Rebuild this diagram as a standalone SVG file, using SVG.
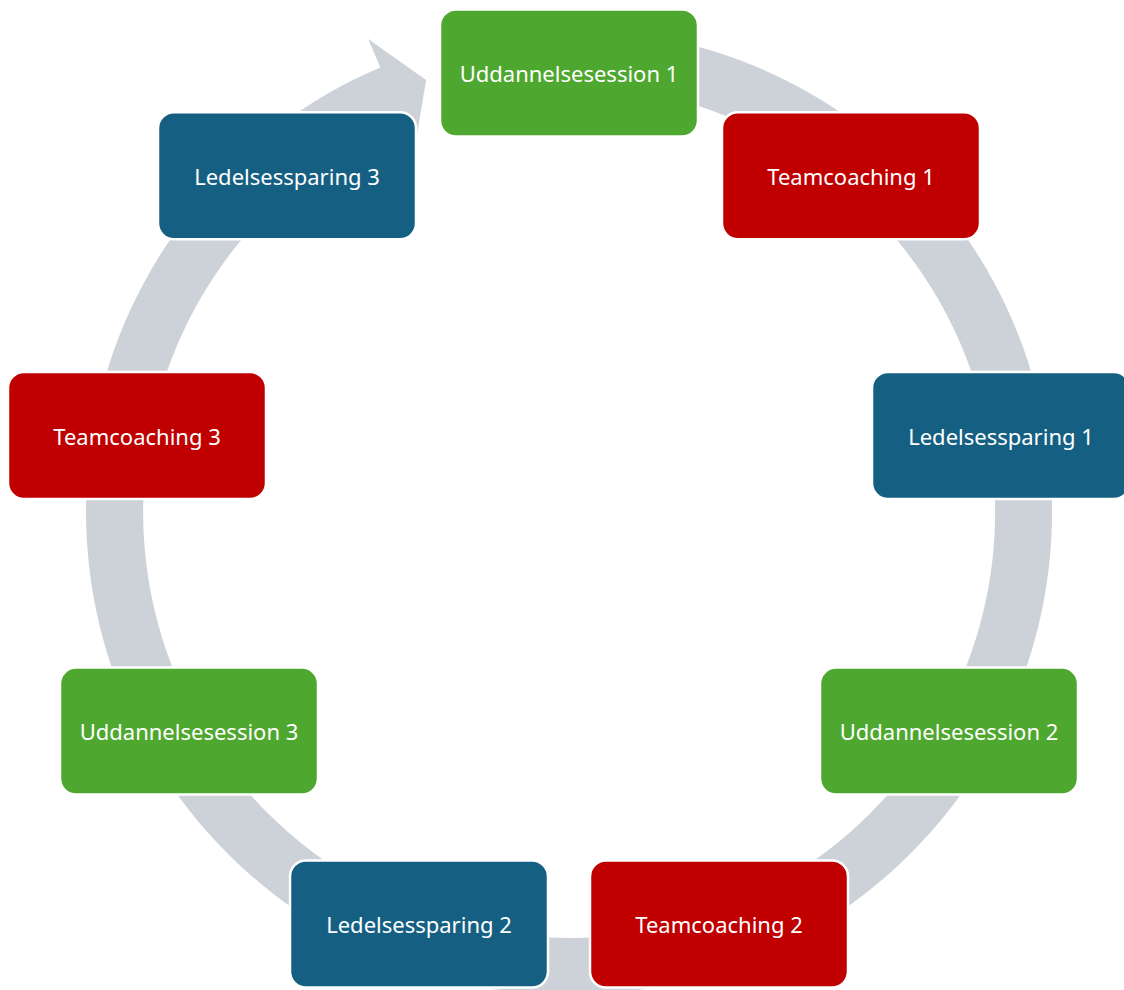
<svg xmlns="http://www.w3.org/2000/svg" width="1124" height="990" viewBox="0 0 1124 990">
<style>
.n{stroke:#fff;stroke-width:2.5}
.g{fill:#4EA72E}.r{fill:#C00000}.b{fill:#156082}
.t{fill:#fff;font-family:"Noto Sans","Liberation Sans",sans-serif;font-size:22px;text-anchor:middle;dominant-baseline:central}
</style>
<rect width="1124" height="990" fill="#fff"/>
<g id="connectors">
<path d="M 569 29 A 483 483 0 1 1 380.3 67.4 L 368.2 38.9 L 426.1 80 L 414.7 148.4 L 402.6 119.9 A 426 426 0 1 0 569 86 Z" fill="#CDD2D9"/>
</g>
<g id="n1"><rect class="n g" x="440" y="9.5" width="258" height="127" rx="16"/><text class="t" x="569" y="73">Uddannelsesession 1</text></g>
<g id="n2"><rect class="n r" x="722" y="112.2" width="258" height="127" rx="16"/><text class="t" x="851" y="175.7">Teamcoaching 1</text></g>
<g id="n3"><rect class="n b" x="872" y="372" width="258" height="127" rx="16"/><text class="t" x="1001" y="435.5">Ledelsessparing 1</text></g>
<g id="n4"><rect class="n g" x="820" y="667.6" width="258" height="127" rx="16"/><text class="t" x="949" y="731.1">Uddannelsesession 2</text></g>
<g id="n5"><rect class="n r" x="590" y="860.5" width="258" height="127" rx="16"/><text class="t" x="719" y="924">Teamcoaching 2</text></g>
<g id="n6"><rect class="n b" x="290" y="860.5" width="258" height="127" rx="16"/><text class="t" x="419" y="924">Ledelsessparing 2</text></g>
<g id="n7"><rect class="n g" x="60" y="667.6" width="258" height="127" rx="16"/><text class="t" x="189" y="731.1">Uddannelsesession 3</text></g>
<g id="n8"><rect class="n r" x="8" y="372" width="258" height="127" rx="16"/><text class="t" x="137" y="435.5">Teamcoaching 3</text></g>
<g id="n9"><rect class="n b" x="158" y="112.2" width="258" height="127" rx="16"/><text class="t" x="287" y="175.7">Ledelsessparing 3</text></g>
</svg>
